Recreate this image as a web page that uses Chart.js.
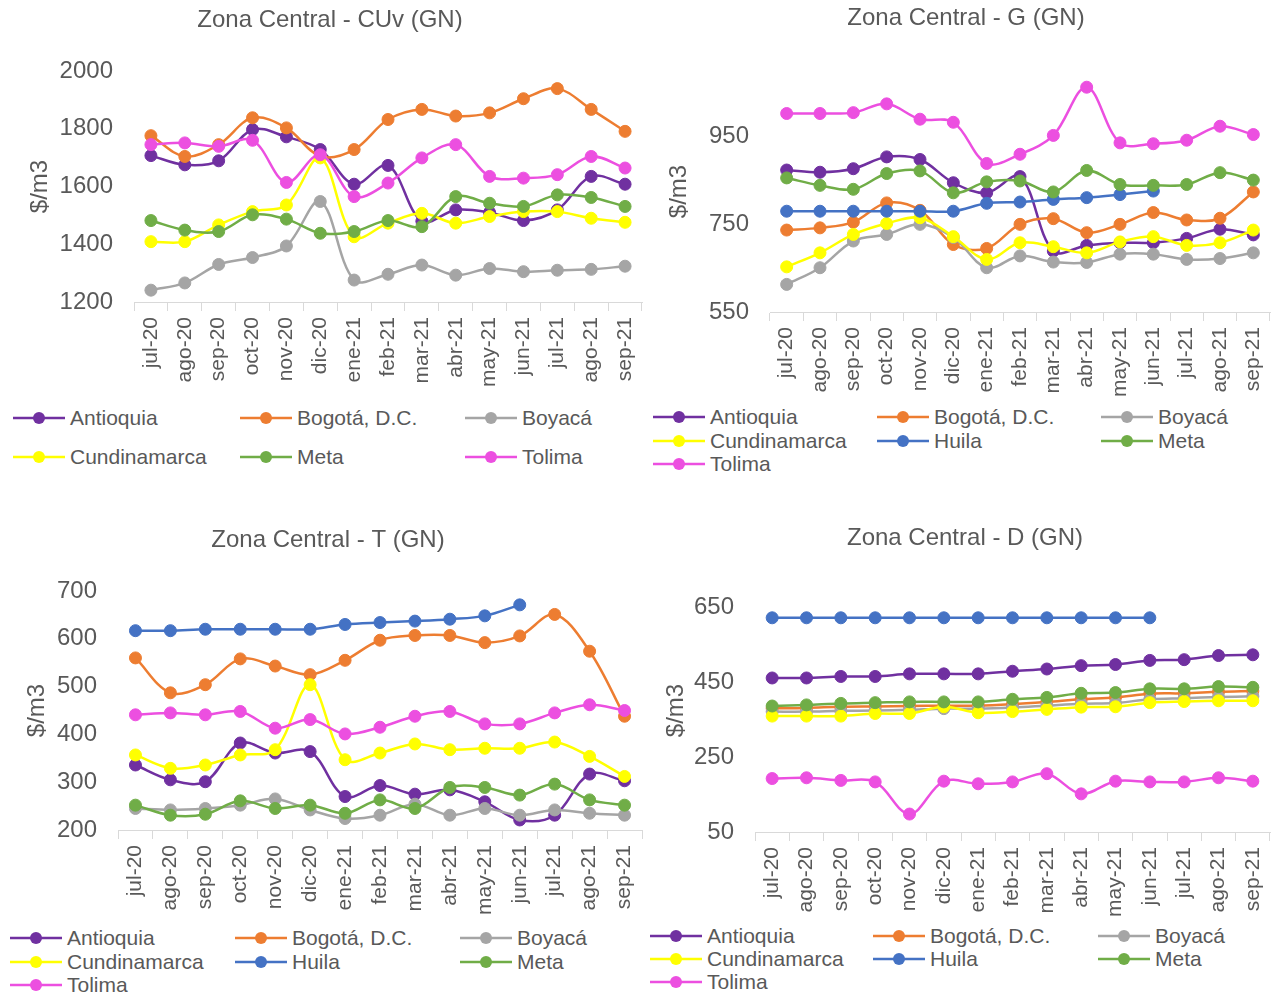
<!DOCTYPE html>
<html>
<head>
<meta charset="utf-8">
<script src="https://cdn.jsdelivr.net/npm/chart.js@4.4.1/dist/chart.umd.min.js"></script>
<style>
  body { margin: 0; background: #fff; width: 1277px; height: 994px; position: relative; overflow: hidden;
         font-family: "Liberation Sans", Arial, sans-serif; color: #595959; }
  canvas { position: absolute; }
  .item { position: absolute; height: 24px; line-height: 24px; font-size: 21px; white-space: nowrap; }
  .item svg { vertical-align: top; margin-right: 5px; }
</style>
</head>
<body>
<canvas id="chartCuv" width="660" height="400" style="left:0;top:0"></canvas>
<canvas id="chartG" width="622" height="400" style="left:655px;top:0"></canvas>
<canvas id="chartT" width="656" height="395" style="left:0;top:525px"></canvas>
<canvas id="chartD" width="624" height="395" style="left:653px;top:525px"></canvas>
<script>
const months = ['jul-20','ago-20','sep-20','oct-20','nov-20','dic-20','ene-21','feb-21','mar-21','abr-21','may-21','jun-21','jul-21','ago-21','sep-21'];

const cuvTicks = [1200, 1400, 1600, 1800, 2000];
const gTicks = [550, 750, 950];
const tTicks = [200, 300, 400, 500, 600, 700];
const dTicks = [50, 250, 450, 650];

// CUv
const cuvAntioquia    = [1707,1675,1689,1797,1772,1728,1608,1673,1480,1519,1510,1482,1519,1635,1608];
const cuvBogota       = [1776,1704,1745,1838,1803,1705,1728,1832,1867,1844,1855,1904,1939,1867,1791];
const cuvBoyaca       = [1241,1266,1330,1354,1394,1548,1276,1296,1328,1293,1316,1305,1310,1313,1324];
const cuvCundinamarca = [1409,1409,1467,1513,1536,1699,1426,1473,1507,1473,1496,1513,1513,1490,1476];
const cuvMeta         = [1482,1449,1444,1502,1487,1438,1444,1482,1461,1565,1542,1531,1571,1562,1531];
const cuvTolima       = [1745,1751,1739,1760,1614,1710,1565,1612,1699,1745,1635,1629,1641,1704,1664];

// G
const gAntioquia    = [874,869,877,904,898,845,822,859,689,702,708,708,718,739,726];
const gBogota       = [737,742,755,799,782,704,695,750,763,731,750,777,760,764,824];
const gBoyaca       = [613,651,712,727,750,720,651,678,664,663,682,682,670,672,685];
const gCundinamarca = [653,685,727,752,765,722,670,708,699,685,710,722,702,708,737];
const gHuila        = [780,780,780,780,780,780,798,801,807,811,818,826,null,null,null];
const gMeta         = [856,839,830,866,872,822,847,849,824,873,841,839,841,868,851];
const gTolima       = [1003,1003,1005,1025,990,983,889,910,953,1063,936,934,942,974,955];

// T
const tAntioquia    = [336,305,301,382,361,364,270,293,275,284,259,221,231,317,303];
const tBogota       = [560,487,504,558,543,525,555,597,607,607,592,606,651,574,438];
const tBoyaca       = [245,242,245,252,265,242,224,231,254,231,245,231,242,235,231];
const tCundinamarca = [357,329,336,357,368,504,347,361,380,368,371,371,384,354,312];
const tHuila        = [617,617,620,620,620,620,630,634,637,641,648,671,null,null,null];
const tMeta         = [252,231,233,261,245,252,235,263,245,289,289,273,296,263,252];
const tTolima       = [441,445,441,448,413,431,401,415,438,448,422,422,445,462,450];

// D
const dAntioquia    = [462,462,466,466,473,473,473,480,486,495,498,509,511,522,524];
const dBogota       = [381,382,385,386,387,388,388,392,398,405,410,420,421,425,427];
const dBoyaca       = [372,372,374,375,377,380,380,383,388,393,395,405,408,411,413];
const dCundinamarca = [360,360,360,367,367,385,369,372,378,384,385,396,399,401,401];
const dHuila        = [623,623,623,623,623,623,623,623,623,623,623,623,null,null,null];
const dMeta         = [387,390,394,396,398,398,398,405,410,421,423,433,433,439,437];
const dTolima       = [193,195,188,184,98,186,179,184,206,152,186,184,184,195,186];

const colors = {
  'Antioquia': '#7030A0',
  'Bogotá, D.C.': '#ED7D31',
  'Boyacá': '#A5A5A5',
  'Cundinamarca': '#FFFF00',
  'Huila': '#4472C4',
  'Meta': '#70AD47',
  'Tolima': '#EC4FE0'
};

Chart.defaults.font.family = '"Liberation Sans", Arial, sans-serif';
Chart.defaults.color = '#595959';

function makeChart(id, title, series, yMin, yMax, ticks, box) {
  const datasets = series.map((s, i) => ({
    label: s[0],
    data: s[1],
    borderColor: colors[s[0]],
    backgroundColor: colors[s[0]],
    pointBackgroundColor: colors[s[0]],
    pointBorderColor: colors[s[0]],
    pointRadius: 6,
    pointBorderWidth: 1,
    borderWidth: 2.5,
    tension: 0.35,
    clip: false,
    order: series.length - i   // last series on top, like the spreadsheet
  }));
  const titleLine = 24 * 1.2;
  return new Chart(document.getElementById(id), {
    type: 'line',
    data: { labels: months, datasets: datasets },
    options: {
      responsive: false,
      animation: false,
      layout: { padding: { left: box.padLeft, right: box.padRight, top: 0, bottom: 0 } },
      plugins: {
        legend: { display: false },
        tooltip: { enabled: false },
        title: {
          display: true, text: title, color: '#595959',
          font: { size: 24, weight: 'normal' },
          padding: { top: box.titleY - titleLine / 2, bottom: box.areaTop - box.titleY - titleLine / 2 }
        }
      },
      scales: {
        x: {
          offset: true,
          grid: { display: true, offset: true, drawOnChartArea: false, drawTicks: true, tickLength: 9, color: '#D9D9D9' },
          border: { display: true, color: '#D9D9D9', width: 1 },
          ticks: { autoSkip: false, minRotation: 90, maxRotation: 90, padding: 6, font: { size: 21 }, color: '#595959' },
          afterFit: (s) => { s.height = box.xHeight; s.paddingLeft = 0; s.paddingRight = 0; }
        },
        y: {
          min: yMin, max: yMax,
          grid: { display: false },
          border: { display: false },
          ticks: { padding: 13, font: { size: 24 }, color: '#595959', callback: (v) => String(v) },
          afterBuildTicks: (s) => { s.ticks = ticks.map(v => ({ value: v })); },
          afterFit: (s) => { s.width = box.areaLeft - box.padLeft; s.paddingTop = 0; s.paddingBottom = 0; },
          title: { display: true, text: '$/m3', color: '#595959', font: { size: 24 }, padding: { top: box.yTitlePad, bottom: 0 } }
        }
      }
    }
  });
}

function makeLegend(series, cols, rows) {
  series.forEach((s, i) => {
    const div = document.createElement('div');
    div.className = 'item';
    div.style.left = cols[i % 3] + 'px';
    div.style.top = (rows[Math.floor(i / 3)] - 12) + 'px';
    const c = colors[s[0]];
    div.innerHTML = '<svg width="52" height="24"><line x1="0" y1="12" x2="52" y2="12" stroke="' + c +
      '" stroke-width="2.5"/><circle cx="26" cy="12" r="6" fill="' + c + '"/></svg>' + s[0];
    document.body.appendChild(div);
  });
}

const cuvSeries = [['Antioquia', cuvAntioquia], ['Bogotá, D.C.', cuvBogota], ['Boyacá', cuvBoyaca],
                   ['Cundinamarca', cuvCundinamarca], ['Meta', cuvMeta], ['Tolima', cuvTolima]];
const gSeries = [['Antioquia', gAntioquia], ['Bogotá, D.C.', gBogota], ['Boyacá', gBoyaca],
                 ['Cundinamarca', gCundinamarca], ['Huila', gHuila], ['Meta', gMeta], ['Tolima', gTolima]];
const tSeries = [['Antioquia', tAntioquia], ['Bogotá, D.C.', tBogota], ['Boyacá', tBoyaca],
                 ['Cundinamarca', tCundinamarca], ['Huila', tHuila], ['Meta', tMeta], ['Tolima', tTolima]];
const dSeries = [['Antioquia', dAntioquia], ['Bogotá, D.C.', dBogota], ['Boyacá', dBoyaca],
                 ['Cundinamarca', dCundinamarca], ['Huila', dHuila], ['Meta', dMeta], ['Tolima', dTolima]];

makeChart('chartCuv', 'Zona Central - CUv (GN)', cuvSeries, 1200, 2000, cuvTicks,
  { areaLeft: 134, padLeft: 18, padRight: 18, areaTop: 71, xHeight: 98, titleY: 20, yTitlePad: 8 });
makeChart('chartG', 'Zona Central - G (GN)', gSeries, 550, 1100, gTicks,
  { areaLeft: 115, padLeft: 0, padRight: 0, areaTop: 71, xHeight: 88, titleY: 18, yTitlePad: 10 });
makeChart('chartT', 'Zona Central - T (GN)', tSeries, 200, 700, tTicks,
  { areaLeft: 118, padLeft: 14, padRight: 14, areaTop: 66, xHeight: 90, titleY: 15, yTitlePad: 9 });
makeChart('chartD', 'Zona Central - D (GN)', dSeries, 50, 700, dTicks,
  { areaLeft: 102, padLeft: 0, padRight: 0, areaTop: 64, xHeight: 88, titleY: 13, yTitlePad: 9 });

makeLegend(cuvSeries, [13, 240, 465], [418, 457]);
makeLegend(gSeries, [653, 877, 1101], [417, 441, 464]);
makeLegend(tSeries, [10, 235, 460], [938, 962, 985]);
makeLegend(dSeries, [650, 873, 1098], [936, 959, 982]);
</script>
</body>
</html>
